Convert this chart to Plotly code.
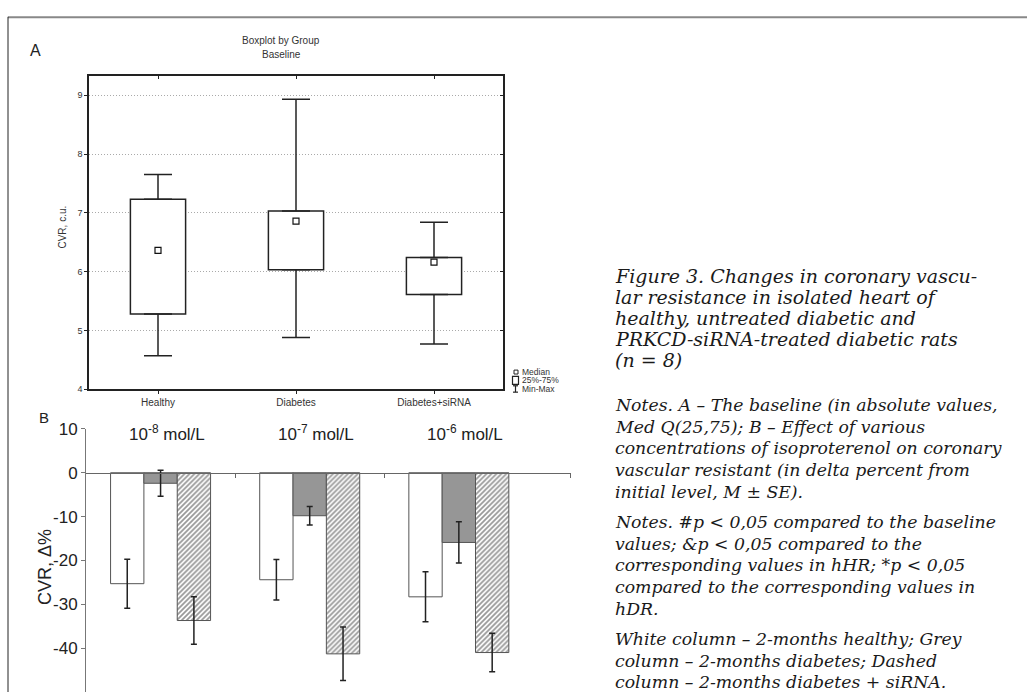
import plotly.graph_objects as go

W, H = 1027, 697

# ---------------- Panel A data (boxplot, absolute values) ----------------
groups_a = ["Healthy", "Diabetes", "Diabetes+siRNA"]
q1_a = [5.28, 6.03, 5.61]
q3_a = [7.23, 7.03, 6.24]
median_a = [6.36, 6.86, 6.16]
min_a = [4.57, 4.88, 4.77]
max_a = [7.65, 8.93, 6.84]

# ---------------- Panel B data (delta %, M ± SE) ----------------
conc_labels = ["10<sup>-8</sup> mol/L", "10<sup>-7</sup> mol/L", "10<sup>-6</sup> mol/L"]
conc_pos = [0, 1, 2]
healthy_b = [-25.3, -24.4, -28.3]
healthy_se = [5.6, 4.6, 5.7]
diabetes_b = [-2.4, -9.8, -15.9]
diabetes_se = [2.95, 2.1, 4.7]
sirna_b = [-33.7, -41.3, -41.0]
sirna_se = [5.4, 6.1, 4.4]

caption_lines = [
    "Figure 3. Changes in coronary vascu-",
    "lar resistance in isolated heart of",
    "healthy, untreated diabetic and",
    "PRKCD-siRNA-treated diabetic rats",
    "(n = 8)",
]
notes_lines = [
    "Notes. A – The baseline (in absolute values,",
    "Med Q(25,75); B – Effect of various",
    "concentrations of isoproterenol on coronary",
    "vascular resistant (in delta percent from",
    "initial level, M ± SE).",
    "Notes. #p &lt; 0,05 compared to the baseline",
    "values; &amp;p &lt; 0,05 compared to the",
    "corresponding values in hHR; *p &lt; 0,05",
    "compared to the corresponding values in",
    "hDR.",
    "White column – 2-months healthy; Grey",
    "column – 2-months diabetes; Dashed",
    "column – 2-months diabetes + siRNA.",
]

SANS = "Liberation Sans, Arial, sans-serif"
SERIF = "DejaVu Serif, serif"


def px(x):
    return x / W


def py(y):
    return 1 - y / H


fig = go.Figure()

# ---- Panel A ----
fig.add_trace(go.Bar(
    x=groups_a, base=q1_a, y=[b - a for a, b in zip(q1_a, q3_a)],
    width=0.4, marker=dict(color="white", line=dict(color="#222", width=1.5)),
    xaxis="x", yaxis="y", hoverinfo="skip"))
# upper whiskers
fig.add_trace(go.Scatter(
    x=groups_a, y=q3_a, mode="markers", marker=dict(size=1, color="rgba(0,0,0,0)"),
    error_y=dict(type="data", symmetric=False,
                 array=[b - a for a, b in zip(q3_a, max_a)], arrayminus=[0, 0, 0],
                 color="#222", thickness=1.5, width=14),
    xaxis="x", yaxis="y", hoverinfo="skip"))
# lower whiskers
fig.add_trace(go.Scatter(
    x=groups_a, y=q1_a, mode="markers", marker=dict(size=1, color="rgba(0,0,0,0)"),
    error_y=dict(type="data", symmetric=False,
                 array=[0, 0, 0], arrayminus=[a - b for a, b in zip(q1_a, min_a)],
                 color="#222", thickness=1.5, width=14),
    xaxis="x", yaxis="y", hoverinfo="skip"))
# medians
fig.add_trace(go.Scatter(
    x=groups_a, y=median_a, mode="markers",
    marker=dict(symbol="square-open", size=6, color="#111", line=dict(width=1.2)),
    xaxis="x", yaxis="y", hoverinfo="skip"))
# helper (empty) trace so the inside top/right tick axes are drawn
fig.add_trace(go.Scatter(x=[], y=[], xaxis="x3", yaxis="y3", hoverinfo="skip"))

# ---- Panel B ----
bw = 0.2235
bar_line = dict(color="#555", width=1)
err_style = dict(color="#222", thickness=1.5, width=3)
fig.add_trace(go.Bar(
    x=conc_pos, y=healthy_b, width=bw, offset=-1.5 * bw,
    marker=dict(color="white", line=bar_line),
    error_y=dict(type="data", array=healthy_se, **err_style),
    xaxis="x2", yaxis="y2", hoverinfo="skip"))
fig.add_trace(go.Bar(
    x=conc_pos, y=diabetes_b, width=bw, offset=-0.5 * bw,
    marker=dict(color="#969696", line=bar_line),
    error_y=dict(type="data", array=diabetes_se, **err_style),
    xaxis="x2", yaxis="y2", hoverinfo="skip"))
fig.add_trace(go.Bar(
    x=conc_pos, y=sirna_b, width=bw, offset=0.5 * bw,
    marker=dict(color="white", line=bar_line,
                pattern=dict(shape="/", fgcolor="#333", bgcolor="white", size=3.5, solidity=0.5)),
    error_y=dict(type="data", array=sirna_se, **err_style),
    xaxis="x2", yaxis="y2", hoverinfo="skip"))

fig.update_layout(
    width=W, height=H, margin=dict(l=0, r=0, t=0, b=0),
    paper_bgcolor="white", plot_bgcolor="white", showlegend=False,
    barmode="overlay",
    font=dict(family=SANS, color="#333"),
    xaxis=dict(domain=[px(89), px(503)], anchor="y", range=[-0.5, 2.5],
               showline=True, linecolor="#222", linewidth=1.5, mirror=True,
               ticks="outside", ticklen=3, tickcolor="#222",
               tickfont=dict(size=10, color="#333"), showgrid=False),
    yaxis=dict(domain=[py(388), py(68)], anchor="x", range=[4, 4 + 320 / 60],
               tickvals=[4, 5, 6, 7, 8, 9],
               showline=True, linecolor="#222", linewidth=1.5, mirror=True,
               ticks="outside", ticklen=3, tickcolor="#222",
               tickfont=dict(size=9, color="#333"),
               showgrid=True, gridcolor="#aaa", griddash="1px,2px", gridwidth=0.8,
               zeroline=False),
    xaxis3=dict(overlaying="x", side="top", anchor="y", range=[-0.5, 2.5],
                tickvals=[0, 1, 2], ticks="inside", ticklen=3, tickcolor="#222",
                showticklabels=False, showline=False, showgrid=False, zeroline=False),
    yaxis3=dict(overlaying="y", side="right", anchor="x", range=[4, 4 + 320 / 60],
                tickvals=[5, 6, 7, 8, 9], ticks="inside", ticklen=3, tickcolor="#222",
                showticklabels=False, showline=False, showgrid=False, zeroline=False),
    xaxis2=dict(domain=[px(86), px(570.7)], anchor="free", position=py(473.7),
                range=[-0.5, 2.75], tickvals=[0.5, 1.5, 2.75],
                showticklabels=False, showline=True, linecolor="#666", linewidth=1,
                ticks="outside", ticklen=4, tickcolor="#666",
                showgrid=False, zeroline=False),
    yaxis2=dict(domain=[0, 268.5 / H], anchor="x2", range=[-50, 10],
                tickvals=[-40, -30, -20, -10, 0, 10],
                ticktext=["-40", "-30", "-20", "-10", "0", "10"],
                showline=True, linecolor="#777", linewidth=1,
                ticks="outside", ticklen=4, tickcolor="#777",
                tickfont=dict(size=17, color="#222"),
                showgrid=False, zeroline=False),
)

ann = []
# panel letters
ann.append(dict(text="A", x=px(35.5), y=py(42.5), font=dict(size=16, color="#222")))
ann.append(dict(text="B", x=px(44), y=py(416.7), font=dict(size=15, color="#222")))
# panel A titles
ann.append(dict(text="Boxplot by Group", x=px(281), y=py(31.7), font=dict(size=10, color="#333")))
ann.append(dict(text="Baseline", x=px(281), y=py(46.7), font=dict(size=10, color="#333")))
# axis titles
ann.append(dict(text="CVR, c.u.", x=px(63), y=py(223), textangle=-90, font=dict(size=10, color="#333")))
ann.append(dict(text="CVR, Δ%", x=px(44.5), y=py(570), textangle=-90, font=dict(size=18, color="#222")))
# panel A legend text
for t, yy in [("Median", 370.5), ("25%-75%", 379), ("Min-Max", 387.5)]:
    ann.append(dict(text=t, x=px(520), y=py(yy), xanchor="left", font=dict(size=8.5, color="#333")))
# concentration labels
for lab, xc in zip(conc_labels, conc_pos):
    ann.append(dict(text=lab, x=xc, xref="x2", y=9.1, yref="y2", xshift=6,
                    font=dict(size=17, color="#222"), showarrow=False))
# caption
cap_y = [272, 293.5, 315, 336.5, 358]
for t, yy in zip(caption_lines, cap_y):
    ann.append(dict(text="<i>" + t + "</i>", x=px(613), y=py(yy), xanchor="left",
                    font=dict(family=SERIF, size=19, color="#1a1a1a")))
notes_y = [404, 426.5, 448.5, 470.5, 493, 523.5, 545.5, 567.5, 590, 612.5, 643, 665, 687]
for t, yy in zip(notes_lines, notes_y):
    ann.append(dict(text="<i>" + t + "</i>", x=px(613), y=py(yy), xanchor="left",
                    font=dict(family=SERIF, size=17.3, color="#1a1a1a")))

for a in ann:
    a.setdefault("xref", "paper")
    a.setdefault("yref", "paper")
    a.setdefault("showarrow", False)
    a.setdefault("xanchor", "center")
    a.setdefault("yanchor", "middle")
fig.update_layout(annotations=ann)

# frame lines and legend symbols (decoration)
shapes = [
    dict(type="line", xref="paper", yref="paper", x0=px(8), x1=1, y0=py(8.3), y1=py(8.3),
         line=dict(color="#888", width=2)),
    dict(type="line", xref="paper", yref="paper", x0=px(8), x1=px(8), y0=py(8), y1=0,
         line=dict(color="#222", width=1)),
    # legend: median small square
    dict(type="rect", xref="paper", yref="paper", x0=px(514), x1=px(518), y0=py(372.5), y1=py(368.5),
         line=dict(color="#222", width=1)),
    # legend: box
    dict(type="rect", xref="paper", yref="paper", x0=px(512.5), x1=px(518.5), y0=py(383), y1=py(375),
         line=dict(color="#222", width=1.2)),
    # legend: min-max I
    dict(type="line", xref="paper", yref="paper", x0=px(515.5), x1=px(515.5), y0=py(391), y1=py(384.5),
         line=dict(color="#222", width=1.2)),
    dict(type="line", xref="paper", yref="paper", x0=px(513), x1=px(518), y0=py(384.5), y1=py(384.5),
         line=dict(color="#222", width=1.2)),
    dict(type="line", xref="paper", yref="paper", x0=px(513), x1=px(518), y0=py(391), y1=py(391),
         line=dict(color="#222", width=1.2)),
]
fig.update_layout(shapes=shapes)

fig.write_html("out.html")
